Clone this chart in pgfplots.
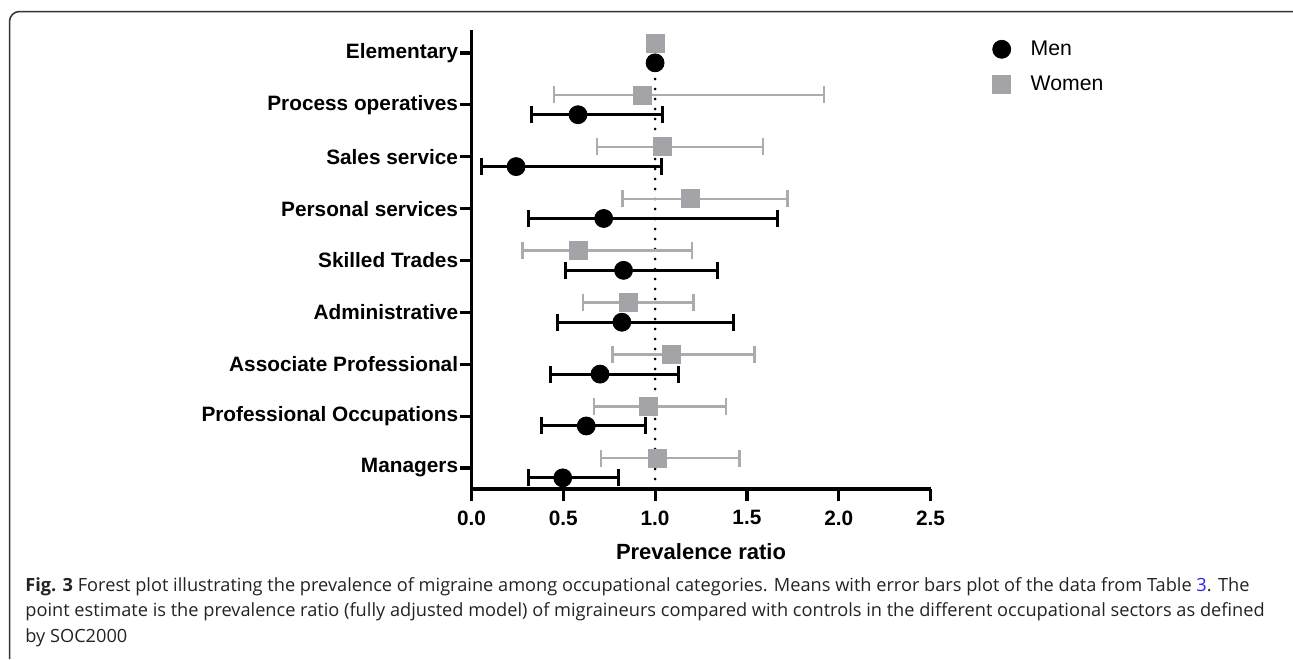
\documentclass[border=0pt]{standalone}
\usepackage{fontspec}
\setmainfont{Liberation Sans}
\newfontfamily\capfont{Open Sans}
\usepackage{pgfplots}
\pgfplotsset{compat=1.18}
\usepackage{pgfplotstable}
\definecolor{wgray}{RGB}{163,163,168}
\definecolor{wbar}{RGB}{172,172,172}
\definecolor{capblue}{RGB}{40,40,235}
\definecolor{capgray}{RGB}{35,35,35}

\pgfplotstableread{
c x lo hi
0 0.497 0.310 0.800
1 0.625 0.379 0.948
2 0.700 0.432 1.130
3 0.819 0.468 1.428
4 0.828 0.514 1.341
5 0.720 0.310 1.668
6 0.243 0.056 1.034
7 0.580 0.325 1.040
8 1.000 1.000 1.000
}\men

\pgfplotstableread{
c x lo hi
0 1.014 0.705 1.461
1 0.961 0.668 1.387
2 1.087 0.767 1.541
3 0.856 0.608 1.210
4 0.583 0.279 1.200
5 1.190 0.823 1.720
6 1.040 0.683 1.587
7 0.930 0.450 1.920
8 1.000 1.000 1.000
}\women

\begin{document}
\begin{tikzpicture}
\path[use as bounding box] (0,0) rectangle (646.5pt,-329.5pt);
\begin{scope}[x=0.5pt,y=-0.5pt]
\draw[line width=0.75pt, color=black!80, rounded corners=5pt] (9.5,659) -- (9.5,11.5) -- (1293,11.5);
\begin{scope}[every node/.style={anchor=base west, inner sep=0pt, text=capgray, font=\capfont\fontsize{9.1}{10}\selectfont}]
\node at (25,591) {\textbf{Fig. 3} Forest plot illustrating the prevalence of migraine among occupational categories. Means with error bars plot of the data from Table \textcolor{capblue}{3}. The};
\node at (25,616.5) {point estimate is the prevalence ratio (fully adjusted model) of migraineurs compared with controls in the different occupational sectors as defined};
\node at (25,642) {by SOC2000};
\end{scope}
\end{scope}
\begin{axis}[
  at={(235.75pt,-244.5pt)}, anchor=south west,
  scale only axis, width=229.5pt, height=229.5pt,
  xmin=0, xmax=2.5, ymin=-0.405, ymax=8.443,
  clip=false,
  axis x line*=bottom, axis y line*=left,
  axis line style={line width=1.6pt, -},
  tick align=outside, major tick length=5.75pt,
  tick style={line width=1.6pt, black},
  xtick={0,0.5,1,1.5,2,2.5},
  ytick={0,1,2,3,4,5,6,7,8},
  yticklabels={Managers, Professional Occupations, Associate Professional, Administrative, Skilled Trades, Personal services, Sales service, Process operatives, Elementary},
  /pgf/number format/assume math mode=true,
  xticklabel={\pgfmathprintnumber[fixed, fixed zerofill, precision=1]{\tick}},
  ticklabel style={font=\bfseries\fontsize{10.4}{12}\selectfont},
  yticklabel style={inner xsep=0.75pt},
  xticklabel style={yshift=-1.5pt},
  xlabel={Prevalence ratio},
  xlabel style={font=\bfseries\fontsize{11}{13}\selectfont, yshift=-2.5pt},
  legend style={draw=none, fill=none, at={(rel axis cs:1.1355,0.9776)}, anchor=north west, inner sep=0pt, outer sep=0pt, row sep=8.5pt, column sep=10pt, font=\fontsize{10.6}{12}\selectfont, nodes={inner sep=0pt}},
  legend cell align=left,
  legend image code/.code={\draw[#1] plot coordinates {(0pt,0pt)};},
]
\addplot[black, line width=1.5pt, dash pattern=on 0pt off 5pt, line cap=round, forget plot] coordinates {(1,-0.405) (1,8.443)};
\addplot[only marks, mark=*, mark size=4.5pt, black, mark options={fill=black, draw=black},
  error bars/.cd, x dir=both, x explicit, error mark=|,
  error bar style={line width=1.5pt, black},
  error mark options={line width=1.5pt, mark size=4.25pt, black}]
  table[x=x, y expr=\thisrow{c}-0.19, x error plus expr=\thisrow{hi}-\thisrow{x}, x error minus expr=\thisrow{x}-\thisrow{lo}] {\men};
\addlegendentry{Men}
\addplot[only marks, mark=square*, mark size=4.5pt, wgray, mark options={fill=wgray, draw=wgray},
  error bars/.cd, x dir=both, x explicit, error mark=|,
  error bar style={line width=1.25pt, wbar},
  error mark options={line width=1.25pt, mark size=4.25pt, wbar}]
  table[x=x, y expr=\thisrow{c}+0.19, x error plus expr=\thisrow{hi}-\thisrow{x}, x error minus expr=\thisrow{x}-\thisrow{lo}] {\women};
\addlegendentry{Women}
\end{axis}
\end{tikzpicture}
\end{document}
